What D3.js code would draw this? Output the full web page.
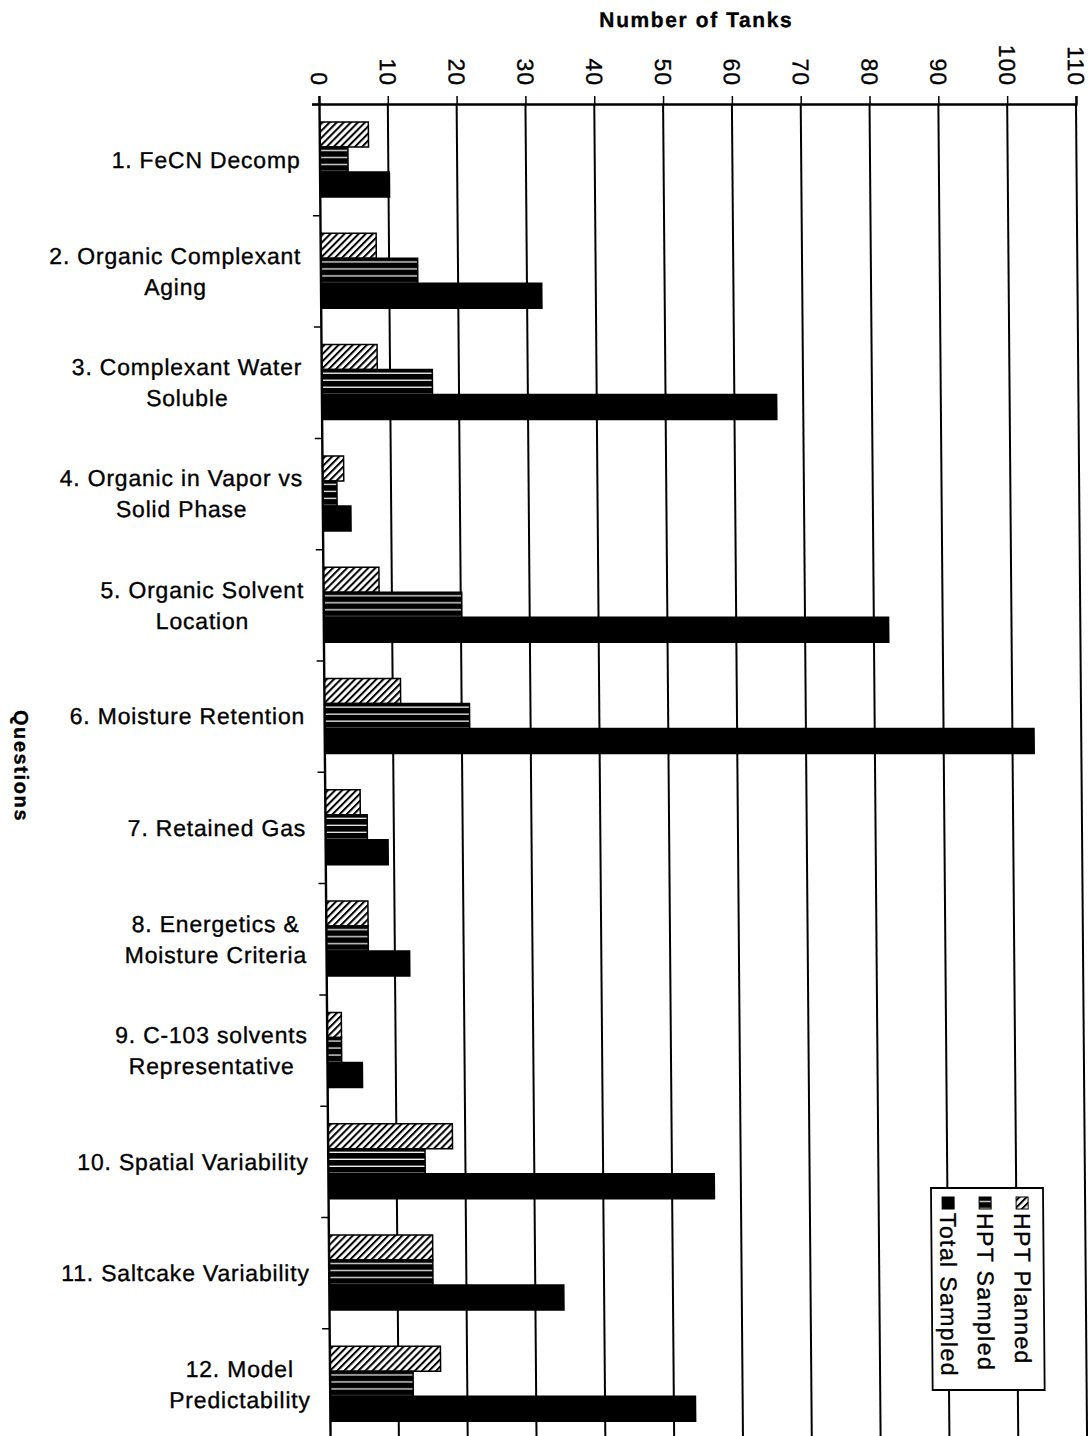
<!DOCTYPE html>
<html>
<head>
<meta charset="utf-8">
<script src="https://cdn.jsdelivr.net/npm/d3@7"></script>
<style>
  body { margin: 0; background: #fff; }
  svg { display: block; font-family: "Liberation Sans", Arial, sans-serif; }
  svg text { stroke: #000; stroke-width: 0.35px; }
</style>
</head>
<body>
<svg id="chart"></svg>
<script>
let w = 1091;
let h = 1436;

// data
let categories = [
  "1. FeCN Decomp",
  "2. Organic Complexant\nAging",
  "3. Complexant Water\nSoluble",
  "4. Organic in Vapor vs\nSolid Phase",
  "5. Organic Solvent\nLocation",
  "6. Moisture Retention",
  "7. Retained Gas",
  "8. Energetics &\nMoisture Criteria",
  "9. C-103 solvents\nRepresentative",
  "10. Spatial Variability",
  "11. Saltcake Variability",
  "12. Model\nPredictability"
];
let seriesNames = ["HPT Planned", "HPT Sampled", "Total Sampled"];
let hptPlanned  = [7, 8, 8, 3, 8, 11, 5, 6, 2, 18, 15, 16];
let hptSampled  = [4, 14, 16, 2, 20, 21, 6, 6, 2, 14, 15, 12];
let totalSampled = [10, 32, 66, 4, 82, 103, 9, 12, 5, 56, 34, 53];
let xTicks = [0, 10, 20, 30, 40, 50, 60, 70, 80, 90, 100, 110];

let plotLeft = 319;
let plotTop = 104;
let plotW = 757;
let bandH = 111.3;
let skewDeg = 0.475; // the scan is slightly sheared
let k = Math.tan(skewDeg * Math.PI / 180);

let svg = d3.select("#chart").attr("width", w).attr("height", h);

let defs = svg.append("defs");
let hatch = defs.append("pattern")
  .attr("id", "hatch")
  .attr("patternUnits", "userSpaceOnUse")
  .attr("width", 5).attr("height", 5)
  .attr("patternTransform", "rotate(45)");
hatch.append("rect").attr("width", 5).attr("height", 5).attr("fill", "#fff");
hatch.append("rect").attr("width", 2).attr("height", 5).attr("fill", "#000");

let lines = defs.append("pattern")
  .attr("id", "hlines")
  .attr("patternUnits", "userSpaceOnUse")
  .attr("width", 8).attr("height", 7);
lines.append("rect").attr("width", 8).attr("height", 7).attr("fill", "#000");
lines.append("rect").attr("y", 4).attr("width", 8).attr("height", 1.2).attr("fill", "#fff");

let fills = ["url(#hatch)", "url(#hlines)", "#000"];

let g = svg.append("g")
  .attr("transform", `translate(${-plotTop * k},0) skewX(${skewDeg})`);

let xScale = d3.scaleLinear().domain([0, 110]).range([plotLeft, plotLeft + plotW]);
let yScale = d3.scaleBand().domain(categories).range([plotTop, plotTop + bandH * categories.length]);
let ySub = d3.scaleBand().domain(seriesNames).range([18, 93]);

let rows = categories.map((c, i) => ({
  cat: c,
  vals: [hptPlanned[i], hptSampled[i], totalSampled[i]]
}));

// gridlines
g.append("g")
  .selectAll("line")
  .data(xTicks.slice(1))
  .enter()
  .append("line")
  .attr("x1", d => xScale(d)).attr("x2", d => xScale(d))
  .attr("y1", plotTop).attr("y2", h + 20)
  .attr("stroke", "#000")
  .attr("stroke-width", 2);

// top axis
let xAxis = d3.axisTop(xScale).tickValues(xTicks).tickSize(8).tickFormat("");
let xAxisG = g.append("g")
  .attr("transform", `translate(0, ${plotTop})`)
  .call(xAxis);
xAxisG.select(".domain").attr("stroke-width", 2.4);
xAxisG.selectAll(".tick line").attr("stroke-width", 1.5);

xAxisG.selectAll(".tick")
  .append("text")
  .attr("transform", "translate(0,-18) rotate(90)")
  .attr("text-anchor", "end")
  .attr("dy", "0.36em")
  .attr("fill", "#000")
  .style("font-size", "23px")
  .style("letter-spacing", "1px")
  .text(d => d);

// left axis
let yAxis = d3.axisLeft(d3.scaleLinear().domain([0, categories.length]).range([plotTop, plotTop + bandH * categories.length]))
  .tickValues(d3.range(0, categories.length + 1))
  .tickSize(7)
  .tickFormat("");
let yAxisG = g.append("g")
  .attr("transform", `translate(${plotLeft}, 0)`)
  .call(yAxis);
yAxisG.select(".domain").attr("stroke-width", 2.4);
yAxisG.selectAll(".tick line").attr("stroke-width", 1.5);

// bars
let rowG = g.selectAll(".row")
  .data(rows)
  .enter()
  .append("g")
  .attr("class", "row")
  .attr("transform", d => `translate(0, ${yScale(d.cat)})`);

rowG.selectAll("rect")
  .data(d => d.vals.map((v, j) => ({ v: v, s: seriesNames[j], j: j })))
  .enter()
  .append("rect")
  .attr("x", xScale(0) + 1)
  .attr("y", d => ySub(d.s))
  .attr("width", d => xScale(d.v) - xScale(0))
  .attr("height", ySub.bandwidth())
  .attr("fill", d => fills[d.j])
  .attr("stroke", "#000")
  .attr("stroke-width", 1.5);

// category labels, lines centred on each other, block right aligned
let labelRight = plotLeft - 19;
rowG.each(function (d) {
  let parts = d.cat.split("\n");
  let lab = d3.select(this).append("g");
  let texts = parts.map((p, i) => lab.append("text")
    .attr("y", bandH / 2 + (i - (parts.length - 1) / 2) * 31)
    .attr("dy", "0.36em")
    .attr("text-anchor", "middle")
    .style("font-size", "23px")
    .style("letter-spacing", "0.8px")
    .text(p));
  let maxW = d3.max(texts, t => t.node().getComputedTextLength());
  texts.forEach(t => t.attr("x", labelRight - maxW / 2));
});

// axis titles
g.append("text")
  .attr("x", 697).attr("y", 27)
  .attr("text-anchor", "middle")
  .style("font-size", "21px")
  .style("font-weight", "bold")
  .style("letter-spacing", "1.6px")
  .text("Number of Tanks");

g.append("text")
  .attr("transform", `translate(9, 766) rotate(90)`)
  .attr("text-anchor", "middle")
  .style("font-size", "20px")
  .style("font-weight", "bold")
  .style("letter-spacing", "1.6px")
  .text("Questions");

// legend (rotated like the rest of the page)
let legX = 922, legY = 1188, legW = 112, legH = 202;
let leg = g.append("g");
leg.append("rect")
  .attr("x", legX).attr("y", legY)
  .attr("width", legW).attr("height", legH)
  .attr("fill", "#fff")
  .attr("stroke", "#000")
  .attr("stroke-width", 1.8);

let legCols = [legX + 91, legX + 54, legX + 17];
seriesNames.forEach((s, i) => {
  leg.append("rect")
    .attr("x", legCols[i] - 6).attr("y", legY + 9)
    .attr("width", 12).attr("height", 12)
    .attr("fill", fills[i])
    .attr("stroke", "#000")
    .attr("stroke-width", 1);
  leg.append("text")
    .attr("transform", `translate(${legCols[i]}, ${legY + 25}) rotate(90)`)
    .attr("dy", "0.36em")
    .style("font-size", "23px")
    .style("letter-spacing", "1.4px")
    .text(s);
});
</script>
</body>
</html>
